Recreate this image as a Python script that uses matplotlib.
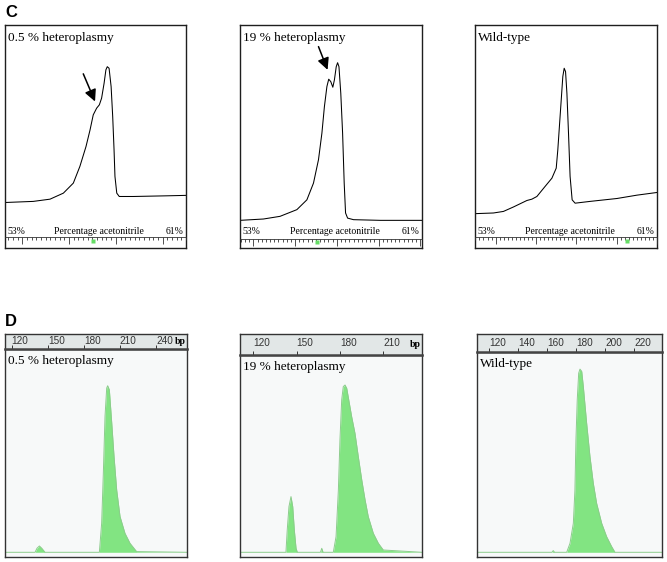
import matplotlib.pyplot as plt
from matplotlib.ticker import MultipleLocator

plt.rcParams['font.family'] = ['Liberation Serif', 'DejaVu Serif']

W, H = 667, 562

# Panel C: DHPLC elution profiles (x = % acetonitrile, y = detector signal, 0-100 of box height)
c_titles = ['0.5 % heteroplasmy', '19 % heteroplasmy', 'Wild-type']

c1_x = [53.00, 54.25, 54.99, 55.58, 56.02, 56.31, 56.58, 56.76, 56.90, 57.05, 57.17, 57.27,
        57.38, 57.46, 57.52, 57.60, 57.69, 57.76, 57.82, 57.86, 57.94, 58.05, 58.67, 60.15, 61.00]
c1_y = [20.4, 20.9, 21.9, 24.6, 29.1, 36.6, 45.5, 53.0, 59.7, 62.7, 64.2, 67.2,
        73.9, 79.9, 81.3, 80.6, 72.4, 59.0, 44.0, 32.1, 24.6, 23.1, 23.1, 23.4, 23.6]

c2_x = [53.00, 54.03, 54.76, 55.50, 55.94, 56.23, 56.45, 56.60, 56.71, 56.82, 56.90, 56.99,
        57.08, 57.15, 57.23, 57.29, 57.35, 57.43, 57.51, 57.58, 57.64, 57.73, 57.99, 59.17, 61.00]
c2_y = [12.4, 13.0, 14.2, 17.2, 21.6, 29.1, 39.6, 51.5, 63.4, 72.4, 75.7, 74.6,
        72.1, 75.4, 81.3, 83.1, 81.3, 69.4, 51.5, 29.1, 15.7, 13.4, 12.7, 12.4, 12.4]

c3_x = [53.00, 53.81, 54.25, 54.69, 55.28, 55.50, 55.72, 56.08, 56.38, 56.57, 56.64, 56.71,
        56.79, 56.86, 56.92, 56.98, 57.04, 57.11, 57.18, 57.27, 57.40, 58.06, 59.24, 60.12, 61.00]
c3_y = [15.4, 15.7, 16.4, 18.4, 21.3, 21.9, 23.1, 27.6, 31.3, 35.8, 44.0, 54.5,
        66.4, 76.9, 80.6, 79.1, 69.4, 51.5, 32.1, 21.6, 20.1, 20.9, 22.2, 23.7, 24.9]

# arrows pointing at the heteroduplex shoulder: (tail, tip)
c_arrows = [((56.46, 78.1), (56.98, 65.7)), ((56.45, 90.3), (56.85, 79.9)), None]

# Panel D: fragment analysis (x = size in bp, y = fluorescence above baseline)
d_titles = ['0.5 % heteroplasmy', '19 % heteroplasmy', 'Wild-type']
d_ticks = [[120, 150, 180, 210, 240], [120, 150, 180, 210], [120, 140, 160, 180, 200, 220]]

d1_x = [114.4, 139.4, 141.0, 143.0, 145.0, 147.7, 192.9, 194.8, 196.2, 197.6, 199.0, 199.8,
        201.2, 203.2, 205.1, 207.3, 210.1, 214.2, 218.4, 223.9, 265.8]
d1_y = [0, 0, 4, 6.3, 4, 0, 0, 29, 79, 135.7, 164, 166.3,
        162.3, 129, 95.7, 62.3, 35.7, 19, 9, 0.7, 0]

d2_x = [110.8, 142.6, 143.5, 144.7, 146.1, 147.3, 148.4, 149.6, 150.5, 166.5, 167.4, 168.3,
        175.4, 177.3, 178.9, 180.0, 181.2, 182.3, 183.5, 184.7, 186.5, 188.1, 190.4, 192.7,
        195.1, 197.4, 199.6, 203.1, 206.6, 210.0, 236.8]
d2_y = [0, 0, 22.3, 45.7, 55.7, 45.7, 22.3, 4, 0, 0, 4, 0,
        0, 15.7, 62.3, 112.3, 152.3, 165.7, 167.3, 164, 149, 135.7, 119, 95.7,
        72.3, 52.3, 35.7, 19, 9, 2.3, 0]

d3_x = [111.5, 163.3, 164.2, 165.1, 173.5, 175.8, 178.1, 179.2, 179.9, 180.8, 181.8, 182.7,
        183.9, 185.0, 187.3, 189.6, 191.9, 194.2, 197.7, 201.1, 204.6, 206.9, 239.4]
d3_y = [0, 0, 1.7, 0, 0, 9, 29, 62.3, 112.3, 152.3, 179, 183,
        180.7, 165.7, 129, 95.7, 69, 49, 29, 15.7, 5.7, 0, 0]

c_x = [c1_x, c2_x, c3_x]
c_y = [c1_y, c2_y, c3_y]
d_x = [d1_x, d2_x, d3_x]
d_y = [d1_y, d2_y, d3_y]

# layout (pixel boxes)
c_boxes = [(5, 25, 186, 248), (240, 25, 422, 248), (475, 25, 657, 248)]
strip_h = [11, 9, 11]
strip_lim = [(-0.37, 3.5), (-0.32, 4.04), (-0.51, 4.0)]
strip_mark = [1.51, 1.53, 3.25]

d_boxes = [(5, 334, 187, 557), (240, 334, 422, 557), (477, 334, 662, 557)]
d_head = [15, 21, 17.5]
d_top = [203, 197.3, 200.6]
d_pad = [9, 12.4, 10]

green = '#82e482'
frame = '#1e1e1e'

fig = plt.figure(figsize=(W / 100, H / 100), dpi=100)


def px_axes(x0, y0, x1, y1):
    return fig.add_axes([x0 / W, 1 - y1 / H, (x1 - x0) / W, (y1 - y0) / H])


def style_frame(ax, lw=1.0, color=frame):
    for s in ax.spines.values():
        s.set_linewidth(lw)
        s.set_color(color)


for i in range(3):
    x0, y0, x1, y1 = c_boxes[i]
    ax = px_axes(x0, y0, x1, y1)
    ax.plot(c_x[i], c_y[i], color='black', lw=0.75)
    ax.set_xlim(53, 61)
    ax.set_ylim(0, 100)
    ax.set_xticks([])
    ax.set_yticks([])
    style_frame(ax)
    ax.annotate(c_titles[i], xy=(0, 1), xycoords='axes fraction', xytext=(3, -13),
                textcoords='offset pixels', fontsize=9.5, va='center')
    ax.text(0.015, 0.072, '53%', transform=ax.transAxes, fontsize=7, va='center')
    ax.text(0.985, 0.072, '61%', transform=ax.transAxes, fontsize=7, va='center', ha='right')
    ax.text(0.52, 0.072, 'Percentage acetonitrile', transform=ax.transAxes, fontsize=7,
            va='center', ha='center')
    if c_arrows[i]:
        tail, tip = c_arrows[i]
        ax.annotate('', xy=tip, xytext=tail,
                    arrowprops=dict(arrowstyle='-|>,head_length=0.7,head_width=0.35',
                                    color='black', lw=1.1, shrinkA=0, shrinkB=0))

    # scale strip at the bottom of the box
    st = px_axes(x0, y1 - strip_h[i], x1, y1)
    st.patch.set_visible(False)
    for k in ['bottom', 'left', 'right']:
        st.spines[k].set_visible(False)
    st.spines['top'].set_linewidth(0.6)
    st.spines['top'].set_color('#333333')
    st.set_xlim(*strip_lim[i])
    st.set_ylim(0, 1)
    st.xaxis.set_major_locator(MultipleLocator(1))
    st.xaxis.set_minor_locator(MultipleLocator(0.1))
    st.xaxis.tick_top()
    st.tick_params(axis='x', which='both', direction='in', labeltop=False, labelbottom=False,
                   width=0.6, color='#333333')
    st.tick_params(axis='x', which='major', length=5)
    st.tick_params(axis='x', which='minor', length=2.2)
    st.set_yticks([])
    st.plot([strip_mark[i]], [0.62], 's', color='#66dd66', ms=2.5, mec='none')

for i in range(3):
    x0, y0, x1, y1 = d_boxes[i]
    xlim = (d_x[i][0], d_x[i][-1])

    ax = px_axes(x0, y0 + d_head[i], x1, y1)
    ax.set_facecolor('#f7f9f9')
    ax.fill_between(d_x[i], 0, d_y[i], color=green, lw=0)
    ax.plot(d_x[i], d_y[i], color='#8ccc8c', lw=0.7)
    ax.set_xlim(*xlim)
    ax.set_ylim(-4.7, d_top[i])
    ax.set_xticks([])
    ax.set_yticks([])
    style_frame(ax, 1.0, '#333333')
    ax.annotate(d_titles[i], xy=(0, 1), xycoords='axes fraction', xytext=(3, -12),
                textcoords='offset pixels', fontsize=9.5, va='center')

    hd = px_axes(x0, y0, x1, y0 + d_head[i])
    hd.set_facecolor('#e2e7e7')
    hd.set_xlim(*xlim)
    hd.set_ylim(0, 1)
    hd.set_yticks([])
    hd.set_xticks(d_ticks[i])
    hd.tick_params(axis='x', direction='in', length=3, width=0.7, color='#333333',
                   pad=-d_pad[i], labelsize=7.2, labelcolor='#333333')
    plt.setp(hd.get_xticklabels(), ha='left', family='Liberation Sans')
    style_frame(hd, 1.0, '#333333')
    hd.spines['bottom'].set_linewidth(1.8)
    hd.spines['bottom'].set_color('#444444')
    if i < 2:
        hd.annotate('bp', xy=(1, 0.5), xycoords='axes fraction', xytext=(-1.5, 0),
                    textcoords='offset pixels', ha='right', va='center', fontsize=7,
                    fontweight='bold')

fig.text(5 / W, 1 - 12.5 / H, 'C', fontsize=12, fontweight='bold', va='center',
         family='Liberation Sans')
fig.text(5 / W, 1 - 321 / H, 'D', fontsize=12, fontweight='bold', va='center',
         family='Liberation Sans')

fig.savefig('out.png', dpi=100)
